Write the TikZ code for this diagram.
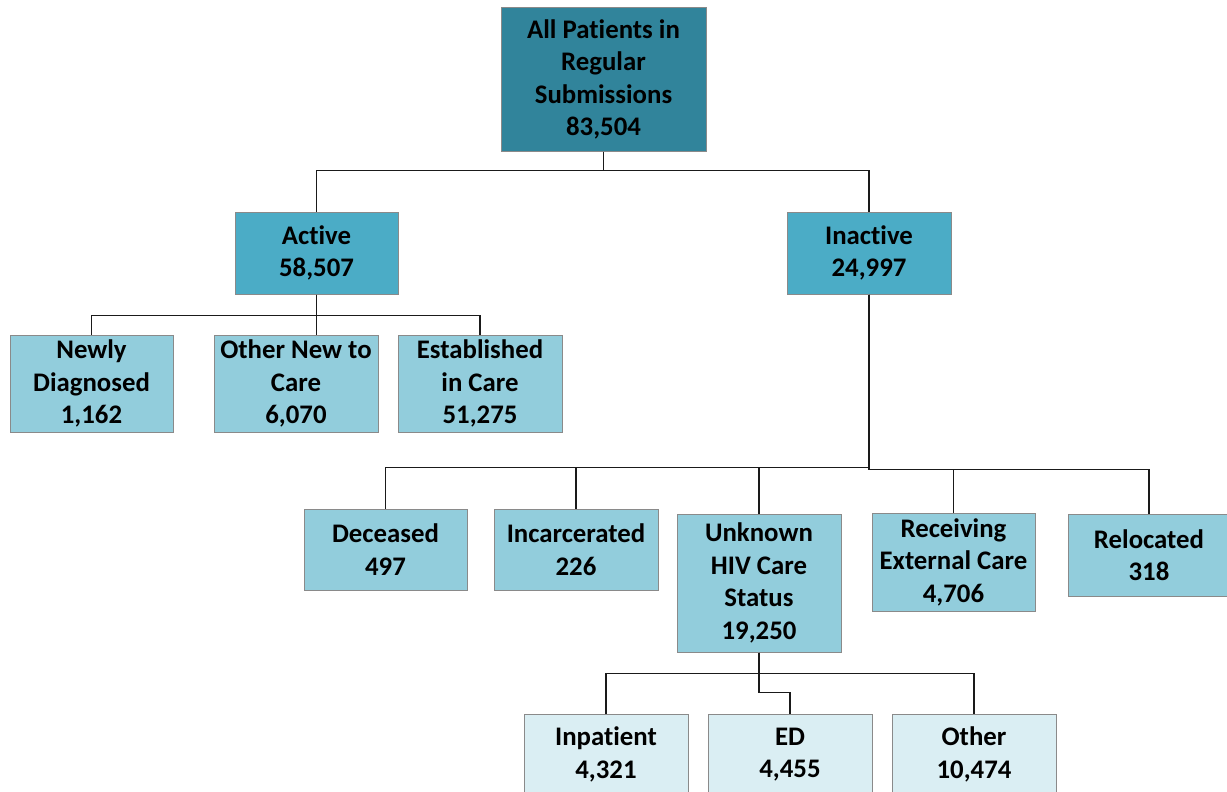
\documentclass[tikz,border=0pt]{standalone}
\usepackage{fontspec}
\setmainfont[Ligatures=NoCommon]{Carlito}
\definecolor{cTop}{HTML}{31849B}
\definecolor{cMid}{HTML}{4BACC6}
\definecolor{cLow}{HTML}{92CDDC}
\definecolor{cBot}{HTML}{DAEEF3}
\definecolor{cEdge}{HTML}{8A8A8A}
\definecolor{cLine}{HTML}{1A1A1A}
\tikzset{
  box/.style={draw=cEdge, line width=1pt, inner sep=0pt, align=center,
    font=\fontsize{26.8}{32.5}\selectfont\bfseries, text=black},
  conn/.style={draw=cLine, line width=1.6pt},
}
\begin{document}
\begin{tikzpicture}[x=1pt,y=-1pt]
\useasboundingbox (0,0) rectangle (1227,792);
\fill[white] (0,0) rectangle (1227,792);
% level 0
\node[box, fill=cTop, minimum width=205, minimum height=143] (top) at (603.5,79.5) {All Patients in\\Regular\\Submissions\\83,504};
% level 1
\node[box, fill=cMid, minimum width=163, minimum height=82] (active) at (316.5,253) {Active\\58,507};
\node[box, fill=cMid, minimum width=164, minimum height=82] (inactive) at (869,253) {Inactive\\24,997};
% level 2 (active)
\node[box, fill=cLow, minimum width=163, minimum height=97] (newly) at (91.5,383.5) {Newly\\Diagnosed\\1,162};
\node[box, fill=cLow, minimum width=164, minimum height=97] (othernew) at (296,383.5) {Other New to\\Care\\6,070};
\node[box, fill=cLow, minimum width=164, minimum height=97] (established) at (480,383.5) {Established\\in Care\\51,275};
% level 2 (inactive)
\node[box, fill=cLow, minimum width=163, minimum height=81] (deceased) at (385.5,549.5) {Deceased\\497};
\node[box, fill=cLow, minimum width=164, minimum height=81] (incarc) at (576,549.5) {Incarcerated\\226};
\node[box, fill=cLow, minimum width=164, minimum height=138] (unknown) at (759,583) {Unknown\\HIV Care\\Status\\19,250};
\node[box, fill=cLow, minimum width=163, minimum height=98] (receiving) at (953.5,562) {Receiving\\External Care\\4,706};
\node[box, fill=cLow, minimum width=162, minimum height=82] (relocated) at (1149,555) {Relocated\\318};
% level 3
\node[box, fill=cBot, minimum width=164, minimum height=81] (inpatient) at (606,754.5) {Inpatient\\4,321};
\node[box, fill=cBot, minimum width=164, minimum height=81] (ed) at (790,754.5) {ED\\4,455};
\node[box, fill=cBot, minimum width=164, minimum height=81] (other) at (974,754.5) {Other\\10,474};
% connectors
\draw[conn] (top.south) -- ++(0,19) -| (active.north);
\draw[conn] (top.south) -- ++(0,19) -| (inactive.north);
\draw[conn] (active.south) -- ++(0,21) -| (newly.north);
\draw[conn] (active.south) -- (active.south |- othernew.north);
\draw[conn] (active.south) -- ++(0,21) -| (established.north);
\draw[conn] (inactive.south) -- ++(0,173) -| (deceased.north);
\draw[conn] (inactive.south) -- ++(0,173) -| (incarc.north);
\draw[conn] (inactive.south) -- ++(0,173) -| (unknown.north);
\draw[conn] (inactive.south) -- ++(0,175) -| (receiving.north);
\draw[conn] (inactive.south) -- ++(0,175) -| (relocated.north);
\draw[conn] (unknown.south) -- ++(0,21) -| (inpatient.north);
\draw[conn] (unknown.south) -- ++(0,21) -| (other.north);
\draw[conn] (unknown.south) -- ++(0,40) -| (ed.north);
\end{tikzpicture}
\end{document}
